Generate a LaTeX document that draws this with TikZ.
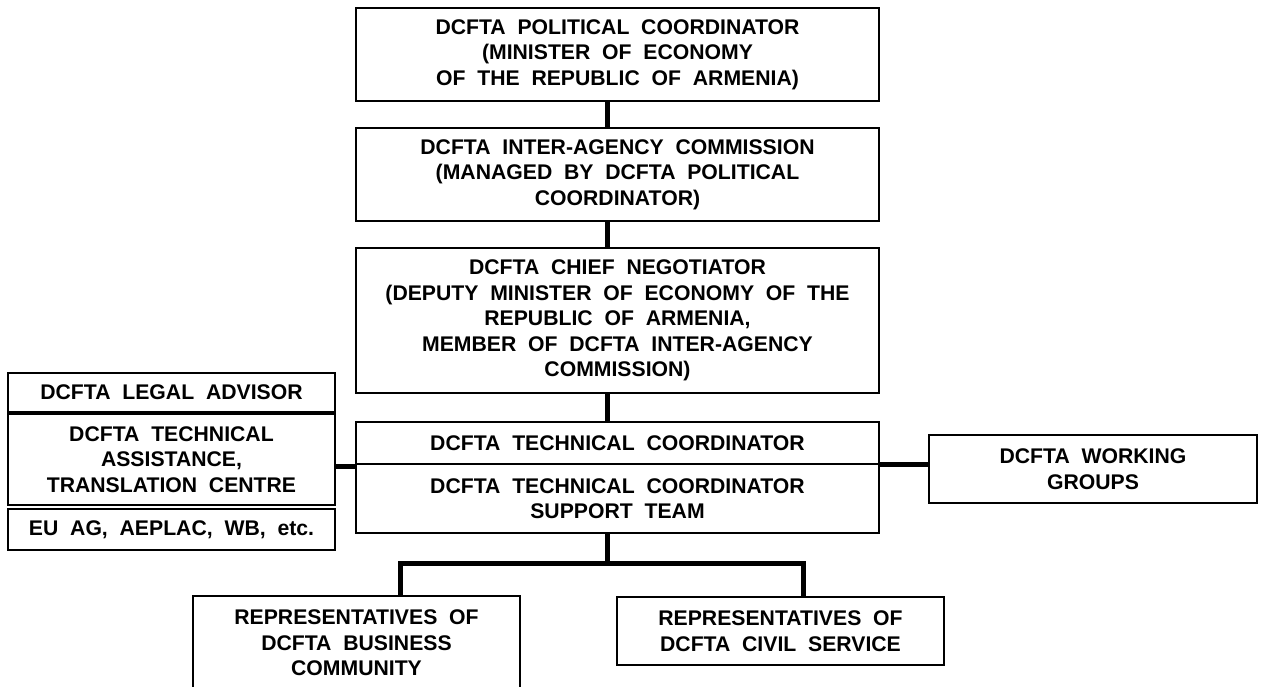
\documentclass[tikz,border=0pt]{standalone}
\usepackage{fontspec}
\setmainfont{Liberation Sans}
\newcommand\bxfont{\fontsize{21.2pt}{25.5pt}\selectfont\bfseries\spaceskip=0.556em\relax}
\begin{document}
\begin{tikzpicture}[x=1pt,y=1pt,
  box/.style={draw, line width=2.6pt, inner sep=0pt, align=center, font=\bxfont},
  conn/.style={draw, line width=5pt}]
\useasboundingbox (0,0) rectangle (1261,-686);
% central column
\node[box, minimum width=523pt, minimum height=93pt] (pc) at (617.5,-54.5)
  {DCFTA POLITICAL COORDINATOR\\(MINISTER OF ECONOMY\\OF THE REPUBLIC OF ARMENIA)};
\node[box, minimum width=523pt, minimum height=93pt] (iac) at (617.5,-174.5)
  {DCFTA INTER-AGENCY COMMISSION\\(MANAGED BY DCFTA POLITICAL\\COORDINATOR)};
\node[box, minimum width=523pt, minimum height=145pt] (cn) at (617.5,-320.5)
  {DCFTA CHIEF NEGOTIATOR\\(DEPUTY MINISTER OF ECONOMY OF THE\\REPUBLIC OF ARMENIA,\\MEMBER OF DCFTA INTER-AGENCY\\COMMISSION)};
\node[box, minimum width=523pt, minimum height=42pt] (tc) at (617.5,-443)
  {DCFTA TECHNICAL COORDINATOR};
\node[box, minimum width=523pt, minimum height=69pt] (st) at (617.5,-498.5)
  {DCFTA TECHNICAL COORDINATOR\\SUPPORT TEAM};
% right
\node[box, minimum width=328pt, minimum height=68pt] (wg) at (1093,-469)
  {DCFTA WORKING\\GROUPS};
% left
\node[box, minimum width=327pt, minimum height=39pt] (la) at (171.5,-392.5)
  {DCFTA LEGAL ADVISOR};
\node[box, minimum width=327pt, minimum height=91pt] (ta) at (171.5,-459.5)
  {DCFTA TECHNICAL\\ASSISTANCE,\\TRANSLATION CENTRE};
\node[box, minimum width=327pt, minimum height=41pt] (eu) at (171.5,-529.5)
  {EU AG, AEPLAC, WB, etc.};
% bottom
\node[box, minimum width=327pt, minimum height=94pt] (bc) at (356.5,-643)
  {REPRESENTATIVES OF\\DCFTA BUSINESS\\COMMUNITY};
\node[box, minimum width=327pt, minimum height=68pt] (cs) at (780.5,-631)
  {REPRESENTATIVES OF\\DCFTA CIVIL SERVICE};
% connectors
\coordinate (stem) at (607,0);
\coordinate (lc) at (0,-466);
\coordinate (rc) at (0,-464);
\coordinate (bl) at (400,-563);
\coordinate (br) at (803,-563);
\draw[conn] (pc.south -| stem) -- (iac.north -| stem);
\draw[conn] (iac.south -| stem) -- (cn.north -| stem);
\draw[conn] (cn.south -| stem) -- (tc.north -| stem);
\draw[conn] (st.south -| stem) -- (stem |- bl);
\draw[conn, line join=miter] (bl |- bc.north) -- (bl) -- (br) -- (br |- cs.north);
\draw[conn] (ta.east |- lc) -- (st.west |- lc);
\draw[conn] (tc.east |- rc) -- (wg.west |- rc);
\end{tikzpicture}
\end{document}
